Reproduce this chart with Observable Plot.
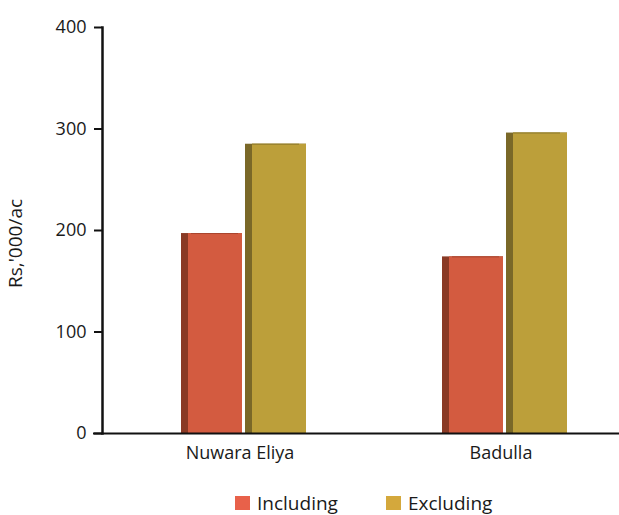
<!DOCTYPE html>
<html>
<head>
<meta charset="utf-8">
<script src="https://cdn.jsdelivr.net/npm/d3@7"></script>
<script src="https://cdn.jsdelivr.net/npm/@observablehq/plot@0.6"></script>
<style>
  html, body { margin: 0; padding: 0; background: #fff; }
  body { position: relative; width: 619px; height: 515px; overflow: hidden; font-family: "Open Sans", sans-serif; color: #1a1a1a; }
  #legend { position: absolute; top: 492px; left: 235px; display: flex; align-items: center; height: 22px; line-height: 22px; font-size: 19px; }
  .item { display: flex; align-items: center; }
  .sw { width: 15px; height: 14px; margin-right: 7px; }
</style>
</head>
<body>
<div id="chart"></div>
<div id="legend"></div>
<script>
const regions = ["Nuwara Eliya", "Badulla"];
const seriesNames = ["Including", "Excluding"];
const including = [197, 174];
const excluding = [285, 296];
const yTicks = [0, 100, 200, 300, 400];
const yLabel = "Rs,'000/ac";

const faceColors = {Including: "#d35b40", Excluding: "#bc9f3a"};
const sideColors = {Including: "#8a3a25", Excluding: "#7a6828"};
const topColors = {Including: "#a9452e", Excluding: "#8f7a2c"};
const legendColors = {Including: "#e8614a", Excluding: "#d4a83c"};

const data = regions.map((r, i) => ({region: r, Including: including[i], Excluding: excluding[i]}));

const chart = Plot.plot({
  width: 619,
  height: 470,
  marginLeft: 102,
  marginRight: 0,
  marginTop: 27,
  marginBottom: 37,
  style: {fontFamily: "Open Sans, sans-serif", fontSize: "18px", color: "#1a1a1a", background: "#fff"},
  x: {domain: regions, paddingInner: 0.5211, paddingOuter: 0.25097, align: 0.603, label: null},
  y: {domain: [0, 400], label: null},
  marks: [
    Plot.barY(data, {x: "region", y: "Including", fill: sideColors.Including, insetLeft: 0, insetRight: 64}),
    Plot.barY(data, {x: "region", y: "Including", fill: faceColors.Including, insetLeft: 7, insetRight: 64}),
    Plot.tickY(data, {x: "region", y: "Including", stroke: topColors.Including, strokeWidth: 1, insetLeft: 10, insetRight: 68}),
    Plot.barY(data, {x: "region", y: "Excluding", fill: sideColors.Excluding, insetLeft: 64, insetRight: 0}),
    Plot.barY(data, {x: "region", y: "Excluding", fill: faceColors.Excluding, insetLeft: 71, insetRight: 0}),
    Plot.tickY(data, {x: "region", y: "Excluding", stroke: topColors.Excluding, strokeWidth: 1, insetLeft: 71, insetRight: 7}),
    Plot.ruleY([0], {stroke: "#111", strokeWidth: 2, insetLeft: -9}),
    Plot.frame({anchor: "left", stroke: "#111", strokeWidth: 2.5}),
    Plot.axisY({ticks: yTicks, tickSize: 8, tickPadding: 8, strokeWidth: 2, stroke: "#111", label: null, fill: "#1a1a1a", fontSize: 18}),
    Plot.axisX({tickSize: 0, tickPadding: 13, dx: -4, label: null, fill: "#1a1a1a", fontSize: 18}),
    Plot.text([yLabel], {frameAnchor: "left", text: d => d, textAnchor: "middle", rotate: -90, dx: -87, dy: 13, fontSize: 19, fill: "#1a1a1a"})
  ]
});
document.getElementById("chart").appendChild(chart);

const legend = document.getElementById("legend");
seriesNames.forEach((name, i) => {
  const item = document.createElement("div");
  item.className = "item";
  if (i > 0) item.style.marginLeft = "48px";
  const sw = document.createElement("span");
  sw.className = "sw";
  sw.style.background = legendColors[name];
  const label = document.createElement("span");
  label.textContent = name;
  item.appendChild(sw);
  item.appendChild(label);
  legend.appendChild(item);
});
</script>
</body>
</html>
